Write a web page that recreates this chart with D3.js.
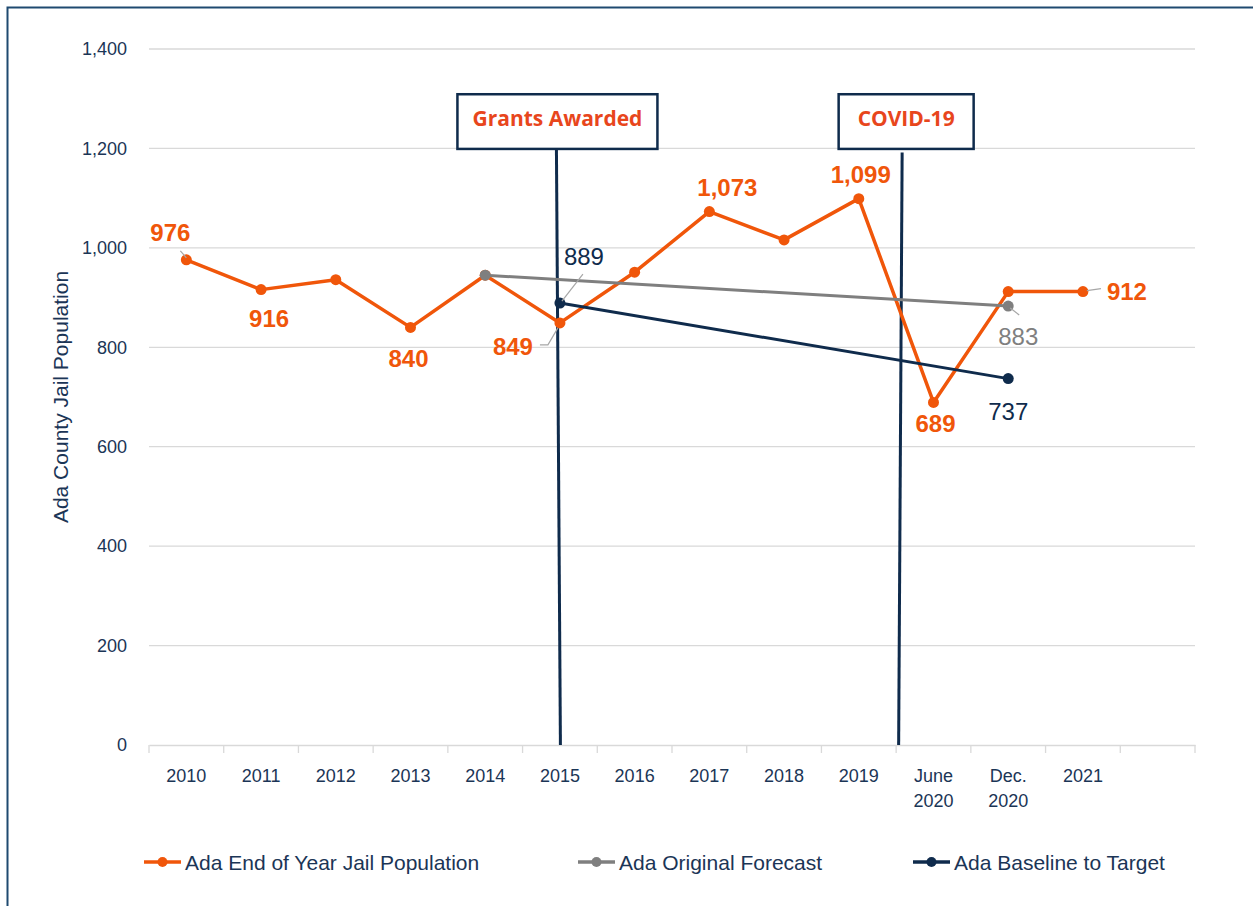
<!DOCTYPE html>
<html>
<head>
<meta charset="utf-8">
<style>
  body { margin: 0; background: #fff; }
  svg { display: block; }
</style>
</head>
<body>
<svg width="1253" height="906"></svg>
<script src="https://cdnjs.cloudflare.com/ajax/libs/d3/7.8.5/d3.min.js"></script>
<script>
  // categories (last slot is an empty band, as in the source chart)
  const categories = ['2010', '2011', '2012', '2013', '2014', '2015', '2016', '2017', '2018', '2019', 'June 2020', 'Dec. 2020', '2021', '_'];
  const jailPop = [976, 916, 936, 840, 945, 849, 951, 1073, 1016, 1099, 689, 912, 912, null];
  const forecast = [null, null, null, null, 945, null, null, null, null, null, null, 883, null, null];
  const baseline = [null, null, null, null, null, 889, null, null, null, null, null, 737, null, null];
  const yTicks = [0, 200, 400, 600, 800, 1000, 1200, 1400];

  const ORANGE = '#F0560A';
  const GREY = '#7F7F7F';
  const NAVY = '#0F2B4C';
  const TEXT = '#1B3556';

  const svg = d3.select('svg');

  // outer frame
  svg.append('rect')
    .attr('x', 7.5).attr('y', 7.5)
    .attr('width', 1300).attr('height', 1000)
    .attr('fill', 'none')
    .attr('stroke', '#1F4A70')
    .attr('stroke-width', 2);

  const x = d3.scaleBand().domain(categories).range([149, 1195]).padding(0);
  const y = d3.scaleLinear().domain([0, 1400]).range([745, 49]);
  const cx = c => x(c) + x.bandwidth() / 2;

  // gridlines
  svg.append('g')
    .selectAll('line')
    .data(yTicks.filter(d => d > 0))
    .enter().append('line')
    .attr('x1', 149).attr('x2', 1195)
    .attr('y1', d => y(d)).attr('y2', d => y(d))
    .attr('stroke', '#D9D9D9')
    .attr('stroke-width', 1.3);

  // y axis labels
  const yAxis = svg.append('g')
    .attr('transform', 'translate(149,0)')
    .call(d3.axisLeft(y).tickValues(yTicks).tickSize(0).tickPadding(22).tickFormat(d3.format(',')));
  yAxis.select('.domain').remove();
  yAxis.selectAll('text')
    .attr('fill', TEXT)
    .style('font-family', '"Liberation Sans", Arial, sans-serif')
    .style('font-size', '18px');

  // x axis
  const xAxis = svg.append('g')
    .attr('transform', 'translate(0,745)')
    .call(d3.axisBottom(x).tickSize(0).tickFormat(''));
  xAxis.select('.domain').attr('stroke', '#D9D9D9').attr('stroke-width', 1.5);
  // boundary ticks
  xAxis.append('g').selectAll('line')
    .data(categories.concat(['end']))
    .enter().append('line')
    .attr('x1', (d, i) => i < categories.length ? x(d) : x.range()[1])
    .attr('x2', (d, i) => i < categories.length ? x(d) : x.range()[1])
    .attr('y1', 0).attr('y2', 8)
    .attr('stroke', '#D9D9D9')
    .attr('stroke-width', 1.3);
  // category labels (two-line where needed)
  const xl = xAxis.append('g').selectAll('text')
    .data(categories.filter(c => c !== '_'))
    .enter().append('text')
    .attr('text-anchor', 'middle')
    .attr('x', d => cx(d))
    .attr('y', 37)
    .attr('fill', TEXT)
    .style('font-family', '"Liberation Sans", Arial, sans-serif')
    .style('font-size', '18px');
  xl.each(function (d) {
    const parts = d.split(' ');
    parts.forEach((p, i) => {
      d3.select(this).append('tspan')
        .attr('x', cx(d))
        .attr('dy', i === 0 ? 0 : 25)
        .text(p);
    });
  });

  // y axis title
  svg.append('text')
    .attr('transform', `translate(68,${y(700)}) rotate(-90)`)
    .attr('text-anchor', 'middle')
    .attr('fill', TEXT)
    .style('font-family', '"Liberation Sans", Arial, sans-serif')
    .style('font-size', '21px')
    .text('Ada County Jail Population');

  // annotation markers (offsets from the category position)
  const annotations = [
    { label: 'Grants Awarded', at: cx('2015'), box: -2.5, top: -3.5, bottom: 0.5, boxW: 200, lineTop: 1199 },
    { label: 'COVID-19', at: x('June 2020'), box: 10, top: 6, bottom: 2.5, boxW: 135, lineTop: 1192 }
  ];
  const ann = svg.append('g');
  annotations.forEach(a => {
    ann.append('line')
      .attr('x1', a.at + a.top).attr('x2', a.at + a.bottom)
      .attr('y1', y(a.lineTop)).attr('y2', y(0))
      .attr('stroke', NAVY)
      .attr('stroke-width', 3);
    ann.append('rect')
      .attr('x', a.at + a.box - a.boxW / 2).attr('y', y(1309))
      .attr('width', a.boxW).attr('height', y(1199) - y(1309))
      .attr('fill', '#fff')
      .attr('stroke', NAVY)
      .attr('stroke-width', 2.5);
    ann.append('text')
      .attr('x', a.at + a.box).attr('y', y(1254) + 4)
      .attr('text-anchor', 'middle')
      .attr('fill', '#E8461C')
      .style('font-family', '"Open Sans", "Noto Sans", sans-serif')
      .style('font-weight', 700)
      .style('font-size', '21px')
      .text(a.label);
  });

  const series = [
    { name: 'Ada End of Year Jail Population', values: jailPop, color: ORANGE, width: 3.5 },
    { name: 'Ada Original Forecast', values: forecast, color: GREY, width: 3 },
    { name: 'Ada Baseline to Target', values: baseline, color: NAVY, width: 3 }
  ];

  const line = d3.line()
    .x(d => cx(d.cat))
    .y(d => y(d.v));

  const plot = svg.append('g');
  series.forEach(s => {
    const pts = categories.map((c, i) => ({ cat: c, v: s.values[i] })).filter(d => d.v != null);
    plot.append('path')
      .datum(pts)
      .attr('d', line)
      .attr('fill', 'none')
      .attr('stroke', s.color)
      .attr('stroke-width', s.width)
      .attr('stroke-linejoin', 'round');
    plot.selectAll(null)
      .data(pts)
      .enter().append('circle')
      .attr('cx', d => cx(d.cat))
      .attr('cy', d => y(d.v))
      .attr('r', 5.5)
      .attr('fill', s.color);
  });

  // data labels: offsets are label placement only
  const labels = [
    { s: 0, cat: '2010', dx: -16, dy: -19, bold: true, leader: [[-6, -9], [0, -2]] },
    { s: 0, cat: '2011', dx: 8, dy: 37, bold: true },
    { s: 0, cat: '2013', dx: -2, dy: 40, bold: true },
    { s: 0, cat: '2015', dx: -47, dy: 32, bold: true, leader: [[-20, 22], [-12, 22], [-2, 5]] },
    { s: 0, cat: '2017', dx: 18, dy: -16, bold: true },
    { s: 0, cat: '2019', dx: 2, dy: -16, bold: true },
    { s: 0, cat: 'June 2020', dx: 2, dy: 30, bold: true },
    { s: 0, cat: '2021', dx: 44, dy: 8, bold: true, leader: [[4, -1], [18, -3]] },
    { s: 2, cat: '2015', dx: 24, dy: -38, bold: false, leader: [[23, -29], [2, -2]] },
    { s: 2, cat: 'Dec. 2020', dx: 0, dy: 41, bold: false },
    { s: 1, cat: 'Dec. 2020', dx: 10, dy: 39, bold: false, leader: [[2, 2], [11, 9]] }
  ];

  const lab = svg.append('g');
  labels.forEach(l => {
    const s = series[l.s];
    const v = s.values[categories.indexOf(l.cat)];
    const px = cx(l.cat), py = y(v);
    if (l.leader) {
      lab.append('polyline')
        .attr('points', l.leader.map(p => [px + p[0], py + p[1]].join(',')).join(' '))
        .attr('fill', 'none')
        .attr('stroke', '#A6A6A6')
        .attr('stroke-width', 1.2);
    }
    lab.append('text')
      .attr('x', px + l.dx)
      .attr('y', py + l.dy)
      .attr('text-anchor', 'middle')
      .attr('fill', s.color)
      .style('font-family', '"Liberation Sans", Arial, sans-serif')
      .style('font-weight', l.bold ? 700 : 400)
      .style('font-size', '24px')
      .text(d3.format(',')(v));
  });

  // legend
  const legendX = [144, 578, 913];
  const legend = svg.append('g').attr('transform', 'translate(0,862)');
  series.forEach((s, i) => {
    const g = legend.append('g').attr('transform', `translate(${legendX[i]},0)`);
    g.append('line')
      .attr('x1', 0).attr('x2', 37)
      .attr('y1', 0).attr('y2', 0)
      .attr('stroke', s.color)
      .attr('stroke-width', 3.5);
    g.append('circle')
      .attr('cx', 18.5).attr('cy', 0).attr('r', 5)
      .attr('fill', s.color);
    g.append('text')
      .attr('x', 41).attr('y', 7.5)
      .attr('fill', TEXT)
      .style('font-family', '"Liberation Sans", Arial, sans-serif')
      .style('font-size', '21px')
      .text(s.name);
  });
</script>
</body>
</html>
